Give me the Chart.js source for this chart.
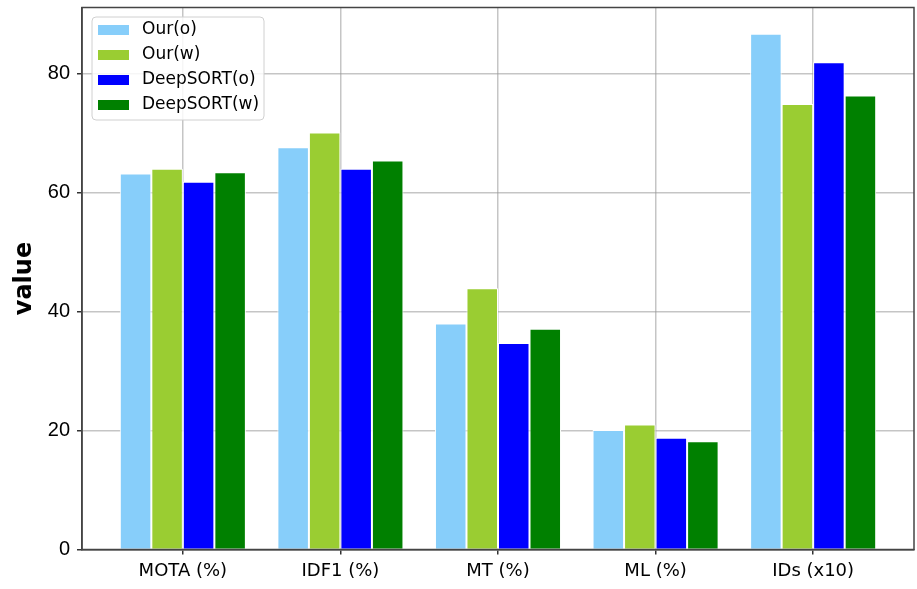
<!DOCTYPE html>
<html>
<head>
<meta charset="utf-8">
<script src="https://cdn.jsdelivr.net/npm/chart.js@4.4.0/dist/chart.umd.min.js"></script>
<style>
  html, body { margin: 0; padding: 0; background: #fff; }
  #wrap { width: 917px; height: 589px; }
</style>
</head>
<body>
<div id="wrap"><canvas id="chart" width="917" height="589"></canvas></div>
<script>
var categories = ["MOTA (%)", "IDF1 (%)", "MT (%)", "ML (%)", "IDs (x10)"];
var seriesNames = ["Our(o)", "Our(w)", "DeepSORT(o)", "DeepSORT(w)"];
var ourO = [63.2, 67.6, 38.0, 20.1, 86.7];
var ourW = [64.0, 70.1, 43.9, 21.0, 74.9];
var deepO = [61.8, 64.0, 34.7, 18.8, 81.9];
var deepW = [63.4, 65.4, 37.1, 18.2, 76.3];
var yTicks = [0, 20, 40, 60, 80];
var colors = ["#87cefa", "#9acd32", "#0000ff", "#008000"];

var allSeries = [ourO, ourW, deepO, deepW];

function toPoints(values) {
  return values.map(function (v, i) {
    return { x: i, y: v };
  });
}

var datasets = allSeries.map(function (values, k) {
  return {
    label: seriesNames[k],
    data: toPoints(values),
    backgroundColor: colors[k],
    borderColor: "#ffffff",
    borderWidth: 1,
    categoryPercentage: 0.8,
    barPercentage: 1.0,
  };
});

// legend box inside the plot, top-left, matplotlib style
var boxLegend = {
  id: "boxLegend",
  afterDraw: function (chart) {
    var ctx = chart.ctx;
    var area = chart.chartArea;
    var x = area.left + 10;
    var y = area.top + 9.5;
    var w = 172;
    var h = 103;
    ctx.save();

    ctx.beginPath();
    ctx.roundRect(x, y, w, h, 4);
    ctx.fillStyle = "rgba(255,255,255,0.85)";
    ctx.fill();
    ctx.strokeStyle = "#d0d0d0";
    ctx.lineWidth = 1;
    ctx.stroke();

    ctx.font = "17px 'DejaVu Sans'";
    ctx.textBaseline = "middle";
    chart.data.datasets.forEach(function (ds, i) {
      var cy = y + 13 + i * 25;
      ctx.fillStyle = ds.backgroundColor;
      ctx.fillRect(x + 6, cy - 5, 31, 10);
      ctx.fillStyle = "#000";
      ctx.fillText(ds.label, x + 50, cy);
    });

    // frame (top and right spines)
    ctx.strokeStyle = "#444";
    ctx.lineWidth = 1.5;
    ctx.strokeRect(area.left, area.top, area.right - area.left, area.bottom - area.top);
    ctx.restore();
  },
};

new Chart(document.getElementById("chart"), {
  type: "bar",
  data: { datasets: datasets },
  plugins: [boxLegend],
  options: {
    responsive: false,
    animation: false,
    layout: { padding: { left: 0, top: 7.5, right: 3, bottom: 0 } },
    plugins: {
      legend: { display: false },
      tooltip: { enabled: false },
    },
    scales: {
      x: {
        type: "linear",
        min: -0.64,
        max: 4.64,
        offset: false,
        z: 1,
        afterBuildTicks: function (scale) {
          scale.ticks = categories.map(function (c, i) {
            return { value: i };
          });
        },
        afterFit: function (scale) {
          scale.height = 39.5;
          scale.paddingLeft = 0;
          scale.paddingRight = 0;
        },
        ticks: {
          color: "#000",
          font: { family: "DejaVu Sans", size: 18 },
          padding: 6,
          maxRotation: 0,
          callback: function (v) {
            return categories[v];
          },
        },
        grid: {
          offset: false,
          color: "rgba(150,150,150,0.55)",
          lineWidth: 1.5,
          tickColor: "#333",
          tickLength: 5,
        },
        border: { color: "#444", width: 1.5 },
      },
      y: {
        min: 0,
        max: 91.1,
        z: 1,
        afterBuildTicks: function (scale) {
          scale.ticks = yTicks.map(function (v) {
            return { value: v };
          });
        },
        afterFit: function (scale) {
          scale.width = 82;
          scale.paddingTop = 0;
          scale.paddingBottom = 0;
        },
        ticks: {
          color: "#000",
          font: { family: "Liberation Sans", size: 20 },
          padding: 7,
        },
        grid: {
          color: "rgba(150,150,150,0.55)",
          lineWidth: 1.5,
          tickColor: "#333",
          tickLength: 5,
        },
        border: { color: "#444", width: 1.5 },
        title: {
          display: true,
          text: "value",
          color: "#000",
          font: { family: "DejaVu Sans", size: 24, weight: "bold" },
          padding: { top: 10, bottom: 0 },
        },
      },
    },
  },
});
</script>
</body>
</html>
